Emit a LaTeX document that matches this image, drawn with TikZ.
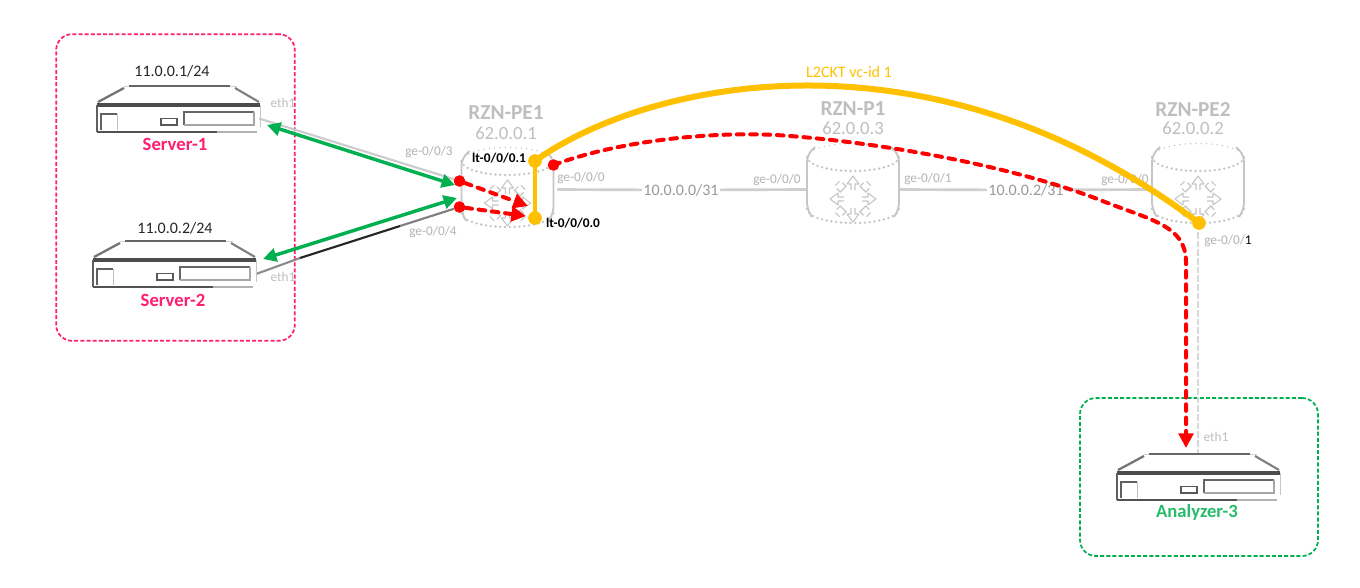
\documentclass[tikz,border=0pt]{standalone}
\usepackage{fontspec}
\setmainfont{Carlito}
\usetikzlibrary{arrows.meta}
\definecolor{pinkc}{HTML}{FF1E70}
\definecolor{greenc}{HTML}{00B050}
\definecolor{goldc}{HTML}{FFC000}
\definecolor{labelg}{HTML}{B4B4B4}
\definecolor{darkg}{HTML}{BFBFBF}
\definecolor{cylg}{HTML}{C6C6C6}
\tikzset{
  x=0.75pt,y=-0.75pt,
  lab/.style={font=\fontsize{10}{12}\selectfont,text=labelg,inner sep=0pt},
  labd/.style={font=\fontsize{12}{14}\selectfont,text=black!85,inner sep=0pt},
  net/.style={font=\fontsize{12}{14}\selectfont,text=black!40,inner sep=1pt,fill=white},
  rname/.style={font=\fontsize{16}{18}\selectfont\bfseries,text=darkg,inner sep=0pt},
  rip/.style={font=\fontsize{14}{16}\selectfont,text=darkg,inner sep=0pt},
  ifc/.style={font=\fontsize{10}{12}\selectfont\bfseries,text=black,inner sep=0pt},
  sname/.style={font=\fontsize{14}{16}\selectfont\bfseries,text=pinkc,inner sep=0pt},
  gname/.style={font=\fontsize{14}{16}\selectfont\bfseries,text=greenc!85!white,inner sep=0pt},
  srvnode/.style={minimum width=122pt,minimum height=20pt,inner sep=0pt},
  rednode/.style={circle,fill=red,inner sep=0pt,minimum size=8.5pt},
  golddot/.style={circle,fill=goldc,inner sep=0pt,minimum size=10pt},
  group/.style={line width=1.3pt,dash pattern=on 3pt off 1.6pt,rounded corners=12pt},
  link/.style={line width=2pt,cylg!85!white},
  greenarrow/.style={line width=2.6pt,greenc,{Triangle[length=10pt,width=10pt]}-{Triangle[length=10pt,width=10pt]}},
  redarrow/.style={line width=3pt,red,line cap=round,dash pattern=on 5pt off 5pt,-{Triangle[length=11pt,width=11pt]}},
  pics/serverico/.style={code={
    % roof
    \draw[line width=1.4pt,black!60] (32,-19) -- (133,-19);
    \draw[line width=.7pt,black!18] (27,-19) -- (32,-19) (133,-19) -- (140,-19);
    \draw[line width=1.7pt,black!55] (1,-3) -- (27,-17);
    \draw[line width=1.6pt,black!50] (138,-17) -- (162,-3);
    % body
    \draw[line width=2.4pt,black!70] (0,0) -- (163,0);
    \draw[line width=1.3pt,black!62] (0,0) -- (0,27);
    \draw[line width=1.8pt,black!68] (0,27) -- (120,27);
    \draw[line width=1.2pt,black!30] (120,27) -- (160,27);
    \draw[line width=.7pt,black!22] (163,0) -- (163,22);
    \draw[line width=1.3pt,black!62] (4,25) -- (4,9) -- (20,9);
    \draw[line width=.7pt,black!25] (20,9) -- (20,25);
    \draw[line width=1pt,black!65] (64,13.5) rectangle (80,20);
    \draw[line width=1.3pt,black!60] (87,20) -- (87,7) -- (157,7);
    \draw[line width=1pt,black!35] (87,20) -- (157,20) -- (157,7);
  }},
  pics/cylinderico/.style={code={
    % local origin = centre of the icon body
    \draw[cylg,line width=1.4pt,rounded corners=5pt] (-38,-38) -- (-46,-30) -- (-46,24) -- (-41,32);
    \draw[cylg,line width=1.4pt,rounded corners=5pt] (38,-38) -- (46,-30) -- (46,24) -- (41,32);
    \draw[cylg,line width=2pt,line cap=round,dash pattern=on 0pt off 3.6pt] (-46,-28) arc[start angle=180,end angle=0,x radius=46,y radius=14];
    \draw[cylg,line width=1.2pt,line cap=round,dash pattern=on 0pt off 4pt] (-46,-28) arc[start angle=180,end angle=360,x radius=46,y radius=13.5];
    \draw[cylg,line width=2pt,line cap=round,dash pattern=on 0pt off 3.6pt] (-46,24) arc[start angle=180,end angle=0,x radius=46,y radius=14];
    % arrows
    \begin{scope}[shift={(0,14)}]
    \foreach \r in {0,90,180,270}{
      \draw[cylg,line width=.8pt,rotate=\r,line join=round]
        (-2,-9) -- (-2,-15) -- (-6,-15) -- (0,-23) -- (6,-15) -- (2,-15) -- (2,-9);
    }
    \foreach \r in {45,135,225,315}{
      \draw[cylg,line width=.9pt,rotate=\r] (-4,-19) -- (-4,-14) -- (4,-14) -- (4,-19);
      \draw[cylg,line width=.8pt,rotate=\r] (-3,-22) -- (3,-22);
    }
    \end{scope}
  }}
}
\begin{document}
\begin{tikzpicture}
\useasboundingbox (0,0) rectangle (1360,587);
\fill[white] (0,0) rectangle (1360,587);

% groups
\node[draw=pinkc,group,minimum width=179pt,minimum height=230pt,inner sep=0pt] (g1) at (175.5,187.5) {};
\node[draw=greenc,group,minimum width=178.5pt,minimum height=118.5pt,inner sep=0pt] (g2) at (1199,477) {};

% anchors for nodes
\node[srvnode] (s1) at (177.5,118.5) {};
\node[srvnode] (s2) at (174.5,274) {};
\node[srvnode] (a3) at (1198.5,486) {};
\coordinate (a3top) at (1198,454);
\coordinate (pe1e) at (557,189.5);
\coordinate (p1w) at (807,189.5);
\coordinate (p1e) at (900,189.5);
\coordinate (pe2w) at (1152,189.5);
\coordinate (pe2b) at (1198,232);

% interface dots (placed now, so links can refer to them; drawn again on top)
\node[rednode] (r1) at (459.5,181) {};
\node[rednode] (r2) at (459.5,207) {};
\node[rednode] (r3) at (553.5,165) {};
\node[golddot] (y1) at (535,161) {};
\node[golddot] (y2) at (535,218) {};
\node[golddot] (y3) at (1199,223) {};

% network labels
\node[net] (n1) at (681,190) {10.0.0.0/31};
\node[net] (n2) at (1026,190) {10.0.0.2/31};

% plain links
\draw[link] (pe1e) -- (n1) -- (p1w);
\draw[link] (p1e) -- (n2) -- (pe2w);
\draw[cylg!70!white,line width=1.5pt,dash pattern=on 5pt off 1.5pt] (pe2b) -- (a3top);
\draw[line width=1.6pt,black!20] (s1.east) -- (r1);
\draw[line width=1.6pt,black!45] (s2.east) -- (300,258);
\draw[line width=1.6pt,black!85] (300,258) -- (400,226);
\draw[line width=1.6pt,black!50] (400,226) -- (r2);

% port labels
\node[lab] (l1) at (429,152) {ge-0/0/3};
\node[lab] (l2) at (433,232) {ge-0/0/4};
\node[lab] (l3) at (581,178) {ge-0/0/0};
\node[lab] (l4) at (777,180) {ge-0/0/0};
\node[lab] (l5) at (928,179) {ge-0/0/1};
\node[lab] (l6) at (1125,180) {ge-0/0/0};
\node[lab] (l7) at (1228,241) {ge-0/0/\textcolor{black}{1}};
\node[lab,text=black!25] (e1) at (283,103) {eth1};
\node[lab,text=black!25] (e2) at (283,277) {eth1};
\node[lab,text=black!25] (e3) at (1216,437) {eth1};

% icons
\pic at (97,105) {serverico};
\pic at (93,260) {serverico};
\pic at (1117,473) {serverico};
\pic at (507.5,189) {cylinderico};
\pic at (853,185) {cylinderico};
\pic at (1198,185) {cylinderico};

% names
\node[labd] (ip1) at (172,71) {11.0.0.1/24};
\node[labd] (ip2) at (175,228) {11.0.0.2/24};
\node[sname] (n3) at (175,144) {Server-1};
\node[sname] (n4) at (173,300) {Server-2};
\node[gname] (n5) at (1197,512) {Analyzer-3};
\node[rname] (p1a) at (506,113) {RZN-PE1};
\node[rip] (p1b) at (506,133) {62.0.0.1};
\node[rname] (p2a) at (853,109) {RZN-P1};
\node[rip] (p2b) at (853,128) {62.0.0.3};
\node[rname] (p3a) at (1193,109) {RZN-PE2};
\node[rip] (p3b) at (1193,128) {62.0.0.2};
\node[font=\fontsize{12}{14}\selectfont,text=goldc,inner sep=0pt] (vc) at (849,72) {L2CKT vc-id 1};

% traffic
\coordinate (ga1) at (267,125);
\coordinate (ga2) at (455,185);
\coordinate (gb1) at (263,259);
\coordinate (gb2) at (457,198);
\draw[greenarrow] (ga1) -- (ga2);
\draw[greenarrow] (gb1) -- (gb2);

\coordinate (t1) at (528,206);
\coordinate (t2) at (526,216);
\coordinate (t3) at (1186,448);
\draw[redarrow] (r1) -- (t1);
\draw[redarrow] (r2) -- (t2);
\draw[redarrow] (r3.center) .. controls (620,140) and (720,130) .. (790,136)
   .. controls (880,143) and (1010,165) .. (1100,200)
   .. controls (1150,220) and (1186,225) .. (1186,262) -- (t3);

\draw[goldc,line width=3.4pt] (y1.center) -- (y2.center);
\draw[goldc,line width=4.5pt] (y1.center) .. controls (640,85) and (923,15) .. (y3.center);

\node[rednode] at (r1) {};
\node[rednode] at (r2) {};
\node[rednode] at (r3) {};
\node[golddot] at (y1) {};
\node[golddot] at (y2) {};
\node[golddot] at (y3) {};

\node[ifc] (i1) at (499,158) {lt-0/0/0.1};
\node[ifc] (i2) at (573,223) {lt-0/0/0.0};
\end{tikzpicture}
\end{document}
